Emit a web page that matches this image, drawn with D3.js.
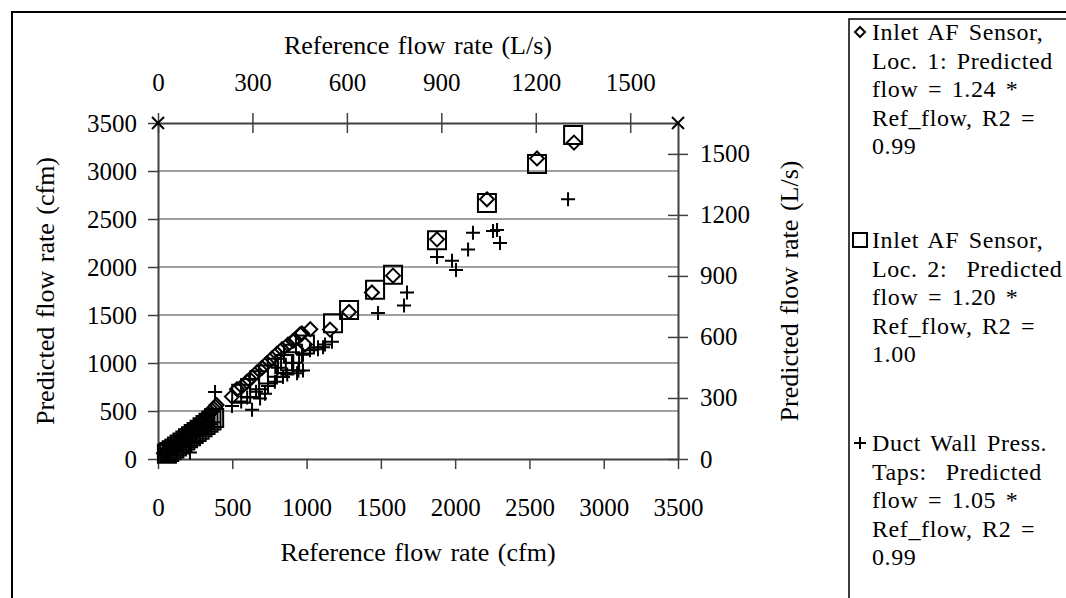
<!DOCTYPE html>
<html>
<head>
<meta charset="utf-8">
<script src="https://cdn.jsdelivr.net/npm/d3@7"></script>
<style>
  body { margin: 0; background: #fff; }
  text { font-family: "Liberation Serif", "Times New Roman", serif; fill: #000; }
</style>
</head>
<body>
<svg width="1066" height="598"></svg>
<script>
var WIDTH = 1066;
var HEIGHT = 598;
var CFM_PER_LS = 2.11888;

var cfmTicks = [0, 500, 1000, 1500, 2000, 2500, 3000, 3500];
var lsTicks = [0, 300, 600, 900, 1200, 1500];

// [reference cfm, predicted cfm]
var loc1 = [
    [40, 60], [52, 72], [64, 84], [78, 100], [90, 116], [104, 134], [118, 150], [130, 168],
    [142, 184], [155, 202], [168, 220], [180, 236], [192, 254], [205, 272], [218, 290],
    [230, 306], [242, 322], [255, 342], [268, 360], [280, 378], [292, 395], [304, 412],
    [316, 430], [328, 448], [340, 466], [352, 486], [364, 505], [375, 525], [386, 545],
    [394, 562], [498, 650], [532, 727], [565, 756], [599, 805], [633, 853], [666, 902],
    [700, 950], [734, 999], [767, 1047], [801, 1096], [835, 1144], [875, 1192], [909, 1231],
    [922, 1241], [956, 1299], [969, 1309], [1025, 1352], [989, 1192], [1158, 1348],
    [1286, 1532], [1440, 1735], [1582, 1910], [1878, 2288], [2214, 2705], [2551, 3131],
    [2800, 3296]
];

var loc2 = [
    [60, 55], [75, 72], [92, 90], [110, 110], [128, 130], [146, 150], [165, 172], [184, 194],
    [202, 215], [222, 238], [240, 260], [260, 282], [280, 305], [300, 330], [320, 354],
    [340, 378], [360, 402], [378, 428], [560, 680], [620, 740], [680, 820], [740, 880],
    [800, 950], [850, 990], [889, 1018], [909, 1096], [989, 1192], [1178, 1415],
    [1286, 1551], [1461, 1764], [1582, 1920], [1878, 2278], [2214, 2666], [2551, 3073],
    [2794, 3374]
];

var taps = [
    [50, 38], [65, 50], [82, 70], [100, 88], [118, 108], [136, 128], [154, 148], [172, 168],
    [190, 186], [208, 206], [215, 68], [226, 224], [244, 244], [262, 262], [280, 282],
    [298, 300], [316, 320], [334, 340], [352, 362], [370, 384], [384, 698], [498, 553],
    [560, 600], [600, 640], [633, 514], [660, 700], [687, 630], [720, 679], [740, 760],
    [787, 805], [808, 950], [841, 853], [870, 880], [902, 999], [936, 892], [945, 918],
    [976, 921], [976, 1086], [1023, 1134], [1077, 1144], [1077, 1163], [1111, 1163],
    [1124, 1192], [1171, 1222], [1481, 1522], [1656, 1600], [1676, 1735], [1878, 2104],
    [1979, 2065], [2006, 1968], [2087, 2181], [2120, 2356], [2255, 2375], [2282, 2385],
    [2302, 2249], [2760, 2705]
];

// dummy series that carries the secondary axes
var corners = [[0, 3500], [3500, 3500]];

var legendEntries = [
    {symbol: "diamond", lines: ["Inlet AF Sensor,", "Loc. 1: Predicted", "flow = 1.24 *", "Ref_flow, R2 =", "0.99"]},
    {symbol: "square", lines: ["Inlet AF Sensor,", "Loc. 2:  Predicted", "flow = 1.20 *", "Ref_flow, R2 =", "1.00"]},
    {symbol: "plus", lines: ["Duct Wall Press.", "Taps:  Predicted", "flow = 1.05 *", "Ref_flow, R2 =", "0.99"]}
];

var svg = d3.select("svg")
    .attr("width", WIDTH)
    .attr("height", HEIGHT);

var plotLeft = 158, plotRight = 678, plotTop = 123, plotBottom = 459;

var x = d3.scaleLinear().domain([0, 3500]).range([plotLeft, plotRight]);
var y = d3.scaleLinear().domain([0, 3500]).range([plotBottom, plotTop]);
var x2 = d3.scaleLinear().domain([0, 3500 / CFM_PER_LS]).range([plotLeft, plotRight]);
var y2 = d3.scaleLinear().domain([0, 3500 / CFM_PER_LS]).range([plotBottom, plotTop]);

// chart border
svg.append("rect")
    .attr("x", 12).attr("y", 12)
    .attr("width", 1200).attr("height", 800)
    .attr("fill", "none").attr("stroke", "#000").attr("stroke-width", 2);

// gridlines
svg.append("g").selectAll("line")
    .data(cfmTicks.filter(function(d) { return d > 0 && d < 3500; }))
    .enter().append("line")
    .attr("x1", plotLeft).attr("x2", plotRight)
    .attr("y1", function(d) { return y(d); })
    .attr("y2", function(d) { return y(d); })
    .attr("stroke", "#808080").attr("stroke-width", 1.5);

function styleAxis(g) {
    g.select(".domain").attr("stroke", "#404040").attr("stroke-width", 2);
    g.selectAll(".tick line").attr("stroke", "#404040").attr("stroke-width", 1.5);
    g.selectAll(".tick text")
        .attr("font-size", 25)
        .attr("font-family", "Liberation Serif");
}

var fmt = d3.format("d");

svg.append("g")
    .attr("transform", "translate(0," + plotBottom + ")")
    .call(d3.axisBottom(x).tickValues(cfmTicks).tickFormat(fmt).tickSize(10).tickSizeOuter(0).tickPadding(29))
    .call(styleAxis);

svg.append("g")
    .attr("transform", "translate(" + plotLeft + ",0)")
    .call(d3.axisLeft(y).tickValues(cfmTicks).tickFormat(fmt).tickSize(10).tickSizeOuter(0).tickPadding(11))
    .call(styleAxis);

svg.append("g")
    .attr("transform", "translate(0," + plotTop + ")")
    .call(d3.axisTop(x2).tickValues(lsTicks).tickFormat(fmt).tickSize(10).tickSizeOuter(0).tickPadding(22))
    .call(styleAxis)
    .selectAll(".tick line").attr("y1", 10);

svg.append("g")
    .attr("transform", "translate(" + plotRight + ",0)")
    .call(d3.axisRight(y2).tickValues(lsTicks).tickFormat(fmt).tickSize(10).tickSizeOuter(0).tickPadding(12))
    .call(styleAxis)
    .selectAll(".tick line").attr("x1", -10);

// axis titles
function title(t) {
    return t.attr("text-anchor", "middle")
        .attr("font-size", 26)
        .attr("word-spacing", 2);
}

svg.append("text")
    .attr("x", (plotLeft + plotRight) / 2).attr("y", 54)
    .call(title)
    .text("Reference flow rate (L/s)");

svg.append("text")
    .attr("x", (plotLeft + plotRight) / 2).attr("y", 561)
    .call(title)
    .text("Reference flow rate (cfm)");

svg.append("text")
    .attr("transform", "translate(54," + (plotTop + plotBottom) / 2 + ") rotate(-90)")
    .call(title)
    .text("Predicted flow rate (cfm)");

svg.append("text")
    .attr("transform", "translate(798," + (plotTop + plotBottom) / 2 + ") rotate(-90)")
    .call(title)
    .text("Predicted flow rate (L/s)");

// marker shapes
function markerPath(type, r) {
    if (type === "diamond") return "M0," + (-r) + "L" + r + ",0L0," + r + "L" + (-r) + ",0Z";
    if (type === "square") return "M" + (-r) + "," + (-r) + "H" + r + "V" + r + "H" + (-r) + "Z";
    if (type === "plus") return "M" + (-r) + ",0H" + r + "M0," + (-r) + "V" + r;
    return "M" + (-r) + "," + (-r) + "L" + r + "," + r + "M" + r + "," + (-r) + "L" + (-r) + "," + r;
}

function drawSeries(data, type, r) {
    svg.append("g").selectAll("path")
        .data(data)
        .enter().append("path")
        .attr("transform", function(d) { return "translate(" + x(d[0]) + "," + y(d[1]) + ")"; })
        .attr("d", markerPath(type, r))
        .attr("fill", "none")
        .attr("stroke", "#000")
        .attr("stroke-width", 2);
}

drawSeries(loc2, "square", 9);
drawSeries(loc1, "diamond", 7);
drawSeries(taps, "plus", 7);
drawSeries(corners, "x", 6);

// legend
svg.append("rect")
    .attr("x", 849).attr("y", 19)
    .attr("width", 400).attr("height", 700)
    .attr("fill", "none").attr("stroke", "#000").attr("stroke-width", 1.5);

var lineGap = 28.5;
var entryTops = [40, 248, 451];
var markerSize = {diamond: 5, square: 7, plus: 6};

legendEntries.forEach(function(entry, i) {
    var g = svg.append("g");
    g.append("path")
        .attr("transform", "translate(860," + (entryTops[i] - 8) + ")")
        .attr("d", markerPath(entry.symbol, markerSize[entry.symbol]))
        .attr("fill", "none").attr("stroke", "#000").attr("stroke-width", 2);
    g.selectAll("text")
        .data(entry.lines)
        .enter().append("text")
        .attr("x", 872)
        .attr("y", function(d, j) { return entryTops[i] + j * lineGap; })
        .attr("font-size", 24)
        .attr("letter-spacing", 0.6)
        .attr("word-spacing", 3)
        .style("white-space", "pre")
        .text(function(d) { return d; });
});
</script>
</body>
</html>
